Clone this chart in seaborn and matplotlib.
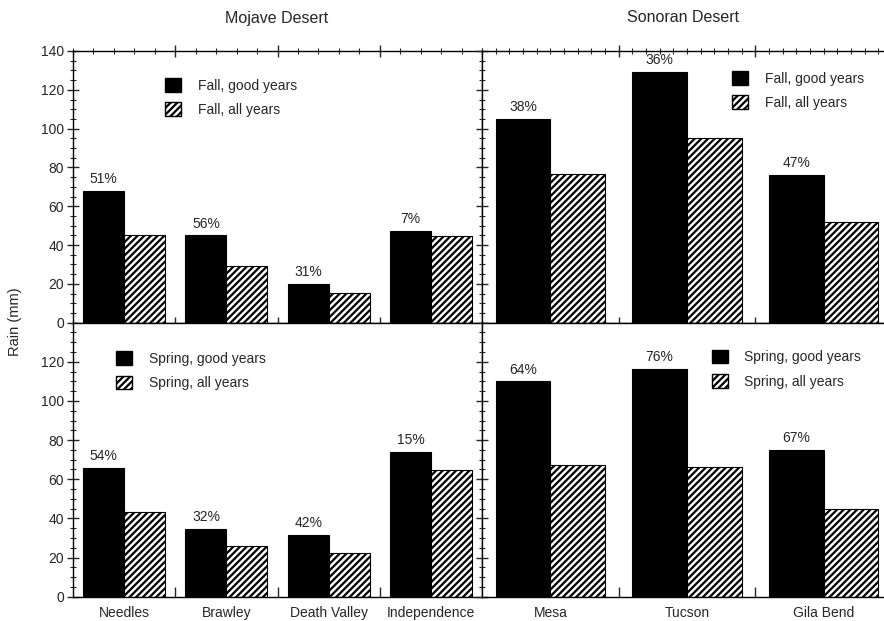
import matplotlib
matplotlib.use("Agg")
import matplotlib.pyplot as plt
import seaborn as sns
import pandas as pd
import numpy as np
from matplotlib.patches import Patch
from matplotlib.ticker import MultipleLocator, FixedLocator, NullFormatter

# ---------------- data ----------------
mojave_sites = ["Needles", "Brawley", "Death Valley", "Independence"]
sonoran_sites = ["Mesa", "Tucson", "Gila Bend"]

mojave_fall_good = [68, 45, 20, 47.5]
mojave_fall_all = [45, 29, 15.5, 44.5]
mojave_fall_pct = ["51%", "56%", "31%", "7%"]

sonoran_fall_good = [105, 129, 76]
sonoran_fall_all = [76.5, 95, 52]
sonoran_fall_pct = ["38%", "36%", "47%"]

mojave_spring_good = [66, 34.5, 31.5, 74]
mojave_spring_all = [43.5, 26, 22.5, 64.5]
mojave_spring_pct = ["54%", "32%", "42%", "15%"]

sonoran_spring_good = [110, 116.5, 75]
sonoran_spring_all = [67.5, 66.5, 45]
sonoran_spring_pct = ["64%", "76%", "67%"]

y_ticks_top = [0, 20, 40, 60, 80, 100, 120, 140]
y_ticks_bottom = [0, 20, 40, 60, 80, 100, 120]

# ---------------- style ----------------
sns.set_style("ticks")
plt.rcParams["font.family"] = ["Liberation Sans", "DejaVu Sans"]
plt.rcParams["hatch.linewidth"] = 1.6
plt.rcParams["hatch.color"] = "black"

W, H = 884, 621
fig = plt.figure(figsize=(W / 100, H / 100), dpi=100)


def frac_box(x0, y_top, x1, y_bot):
    return [x0 / W, 1 - y_bot / H, (x1 - x0) / W, (y_bot - y_top) / H]


ax_tl = fig.add_axes(frac_box(73, 51, 482, 322.7))
ax_tr = fig.add_axes(frac_box(482, 51, 892, 322.7))
ax_bl = fig.add_axes(frac_box(73, 322.7, 482, 596.7))
ax_br = fig.add_axes(frac_box(482, 322.7, 892, 596.7))

HATCH = "/////"


def draw_panel(ax, sites, good, allv, pct, good_lab, all_lab, top, left, leg_anchor):
    df = pd.DataFrame({
        "site": sites * 2,
        "kind": [good_lab] * len(sites) + [all_lab] * len(sites),
        "value": list(good) + list(allv),
    })
    sns.barplot(data=df, x="site", y="value", hue="kind", order=sites,
                hue_order=[good_lab, all_lab],
                palette={good_lab: "black", all_lab: "white"},
                edgecolor="black", linewidth=0.8, width=0.8,
                ax=ax, legend=False, saturation=1)
    for bar in ax.containers[1]:
        bar.set_hatch(HATCH)
    ax.bar_label(ax.containers[0], labels=pct, padding=3.5, fontsize=10)

    n = len(sites)
    ax.set_xlim(-0.5, n - 0.5)
    ax.set_ylim(0, 140)
    ax.set_xlabel("")
    ax.set_ylabel("")
    for s in ax.spines.values():
        s.set_visible(True)
        s.set_linewidth(1.0)
        s.set_color("black")

    bounds = [i + 0.5 for i in range(n - 1)]
    step = 0.2 if n == 4 else 0.1
    minor_x = np.arange(-0.5, n - 0.5 + 1e-9, step)
    if top:
        ax.xaxis.set_major_locator(FixedLocator(bounds))
        ax.xaxis.set_minor_locator(FixedLocator(minor_x))
        ax.xaxis.set_major_formatter(NullFormatter())
        ax.tick_params(axis="x", which="major", direction="inout", length=9,
                       width=1, top=True, bottom=True, labelbottom=False)
        ax.tick_params(axis="x", which="minor", direction="inout", length=5,
                       width=0.8, top=True, bottom=True)
        ax.set_yticks(y_ticks_top)
    else:
        ax.set_xticks(range(n))
        ax.set_xticklabels(sites, fontsize=10)
        ax.xaxis.set_minor_locator(FixedLocator(bounds))
        ax.tick_params(axis="x", which="major", length=0, pad=7)
        ax.tick_params(axis="x", which="minor", direction="in", length=7,
                       width=1, top=False, bottom=True)
        ax.set_yticks(y_ticks_bottom)
    ax.yaxis.set_minor_locator(MultipleLocator(5))
    ax.tick_params(axis="y", which="major", direction="inout", length=9,
                   width=1, left=True, right=False, labelsize=10, pad=2)
    ax.tick_params(axis="y", which="minor", direction="inout", length=5,
                   width=0.8, left=True, right=False)
    if not left:
        ax.tick_params(axis="y", which="both", labelleft=False)
    ax.set_ylim(0, 140)

    handles = [Patch(facecolor="black", edgecolor="black", label=good_lab),
               Patch(facecolor="white", edgecolor="black", hatch=HATCH, label=all_lab)]
    ax.legend(handles=handles, loc="upper left", bbox_to_anchor=leg_anchor,
              frameon=False, fontsize=10, handlelength=1.15, handleheight=1.1,
              handletextpad=1.2, labelspacing=0.7, borderpad=0, borderaxespad=0)


draw_panel(ax_tl, mojave_sites, mojave_fall_good, mojave_fall_all, mojave_fall_pct,
           "Fall, good years", "Fall, all years", True, True, (0.225, 0.90))
draw_panel(ax_tr, sonoran_sites, sonoran_fall_good, sonoran_fall_all, sonoran_fall_pct,
           "Fall, good years", "Fall, all years", True, False, (0.61, 0.925))
draw_panel(ax_bl, mojave_sites, mojave_spring_good, mojave_spring_all, mojave_spring_pct,
           "Spring, good years", "Spring, all years", False, True, (0.105, 0.895))
draw_panel(ax_br, sonoran_sites, sonoran_spring_good, sonoran_spring_all, sonoran_spring_pct,
           "Spring, good years", "Spring, all years", False, False, (0.56, 0.90))

fig.text(277 / W, 1 - 18 / H, "Mojave Desert", ha="center", va="center", fontsize=11.5)
fig.text(683 / W, 1 - 18 / H, "Sonoran Desert", ha="center", va="center", fontsize=11.5)
fig.text(15 / W, 1 - 322 / H, "Rain (mm)", ha="center", va="center",
         rotation=90, fontsize=10.5)

fig.savefig("out.png", dpi=100)
